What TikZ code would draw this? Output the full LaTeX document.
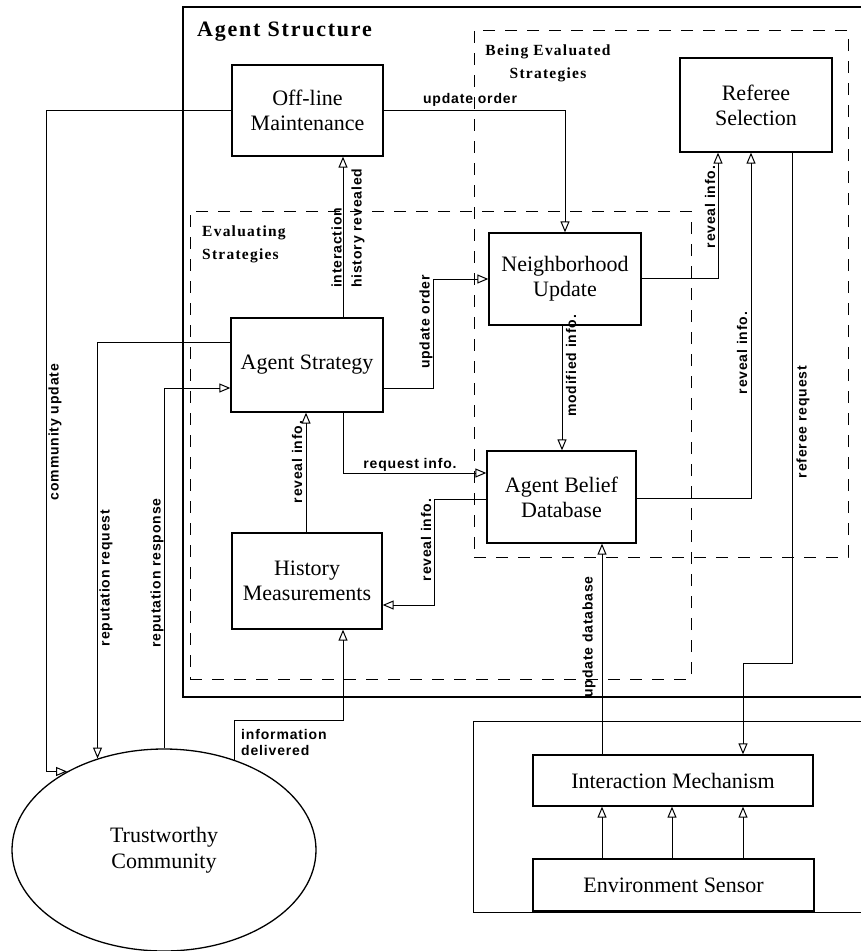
\documentclass[tikz,border=0pt]{standalone}
\usepackage{fontspec}
\setmainfont{Liberation Serif}
\newfontfamily\lblfont[LetterSpace=6]{Liberation Sans}
\newfontfamily\hdrfont[LetterSpace=8]{Liberation Serif}
\usetikzlibrary{arrows.meta,shapes.geometric}
\begin{document}
\begin{tikzpicture}[x=1pt,y=-1pt,
  box/.style={draw, line width=1.3pt, inner sep=0pt, align=center,
    font=\fontsize{22}{25}\selectfont},
  outerframe/.style={draw, inner sep=0pt},
  dashbox/.style={draw, line width=1pt, dash pattern=on 12pt off 10pt, inner sep=0pt},
  arr/.style={line width=1pt, -{Triangle[open,length=11pt,width=9pt]}},
  lbl/.style={font=\lblfont\bfseries\fontsize{14}{16}\selectfont, inner sep=1pt},
  vlbl/.style={lbl, rotate=90},
  hdr/.style={font=\hdrfont\bfseries\fontsize{15.5}{23}\selectfont, inner sep=0pt},
]
\useasboundingbox[fill=white] (0,0) rectangle (860,951);

% containers
\node[outerframe, line width=2.5pt, minimum width=697pt, minimum height=690pt] (agentframe) at (531.5,352) {};
\node[outerframe, line width=1pt, minimum width=407pt, minimum height=191pt] (envframe) at (676.5,816.5) {};
\node[dashbox, minimum width=374pt, minimum height=527pt] (beingbox) at (661,293.5) {};
\node[dashbox, minimum width=501pt, minimum height=468pt] (evalbox) at (440.5,445) {};

\node[font=\hdrfont\bfseries\fontsize{22}{25}\selectfont, anchor=west, inner sep=0pt] (agenttitle) at (197,32) {Agent Structure};
\node[hdr, align=center] (beingtitle) at (548,63) {Being Evaluated\\Strategies};
\node[hdr, align=left, anchor=west] (evaltitle) at (202,244) {Evaluating\\Strategies};

% components
\node[box, minimum width=151pt, minimum height=91pt] (offline) at (307.5,110.5) {Off-line\\Maintenance};
\node[box, minimum width=152pt, minimum height=94pt] (referee) at (756,105) {Referee\\Selection};
\node[box, minimum width=152pt, minimum height=92pt] (nu) at (565,279) {Neighborhood\\Update};
\node[box, minimum width=152pt, minimum height=94pt] (as) at (307,365) {Agent Strategy};
\node[box, minimum width=149pt, minimum height=92pt] (abd) at (561.5,497) {Agent Belief\\Database};
\node[box, minimum width=150pt, minimum height=96pt] (hm) at (307,581) {History\\Measurements};
\node[box, minimum width=280pt, minimum height=51pt] (im) at (673,780.5) {Interaction Mechanism};
\node[box, minimum width=281pt, minimum height=52pt] (es) at (673.5,885) {Environment Sensor};
\node[ellipse, draw, line width=1.3pt, minimum width=304pt, minimum height=202pt, inner sep=0pt,
  align=center, font=\fontsize{22}{26}\selectfont] (tc) at (164,850) {Trustworthy\\Community};

% connectors
\coordinate (cubend) at (46,110.5);
\draw[arr] (offline.west) -- (cubend) |- (tc.141.8);
\draw[arr] (offline.east) -| (nu.north);
\draw[arr] (as.north -| 343,0) -- (offline.south -| 343,0);
\draw[arr] (as.west |- 0,342) -| (tc.126.4);
\draw[arr] (tc.north) |- (as.west |- 0,388);
\draw[arr] (as.east |- 0,388) -- (433,388) -- (433,279) -- (nu.west);
\draw[arr] (as.south -| 343,0) |- (abd.west |- 0,473);
\draw[arr] (hm.north -| 306,0) -- (as.south -| 306,0);
\draw[arr] (abd.west |- 0,499) -- (434,499) -- (434,605) -- (hm.east |- 0,605);
\draw[arr] (nu.south -| 562,0) -- (abd.north -| 562,0);
\draw[arr] (nu.east |- 0,278) -| (referee.south -| 718,0);
\draw[arr] (abd.east |- 0,498) -| (referee.south -| 751,0);
\draw[arr] (referee.south -| 792,0) -- (792,663) -- (743,663) -- (im.north -| 743,0);
\draw[arr] (im.north -| 602,0) -- (abd.south -| 602,0);
\coordinate (idbend) at (343,720);
\draw[arr] (tc.52.5) |- (idbend) -- (hm.south -| idbend);
\foreach \xx in {602,672,743}
  \draw[arr] (es.north -| \xx,0) -- (im.south -| \xx,0);

% connector labels
\node[lbl] (luo1) at (470,100) {update order};
\node[vlbl] (lcu) at (55,432) {community update};
\node[vlbl] (lrq) at (106,578) {reputation request};
\node[vlbl] (lrs) at (157,573) {reputation response};
\node[vlbl, align=left, anchor=west, font=\lblfont\bfseries\fontsize{14}{20}\selectfont] (lihr) at (348,289) {interaction\\history revealed};
\node[vlbl] (luo2) at (426,322) {update order};
\node[lbl] (lri) at (410,465) {request info.};
\node[vlbl] (lrv1) at (297,462) {reveal info.};
\node[vlbl] (lrv2) at (426,540) {reveal info.};
\node[vlbl] (lmi) at (571,366) {modified info.};
\node[vlbl] (lrv3) at (710,207) {reveal info.};
\node[vlbl] (lrv4) at (742,353) {reveal info.};
\node[vlbl] (lrr) at (803,422) {referee request};
\node[vlbl] (lud) at (589,637) {update database};
\node[lbl, align=left, anchor=west] (lid) at (240,742) {information\\delivered};
\end{tikzpicture}
\end{document}
